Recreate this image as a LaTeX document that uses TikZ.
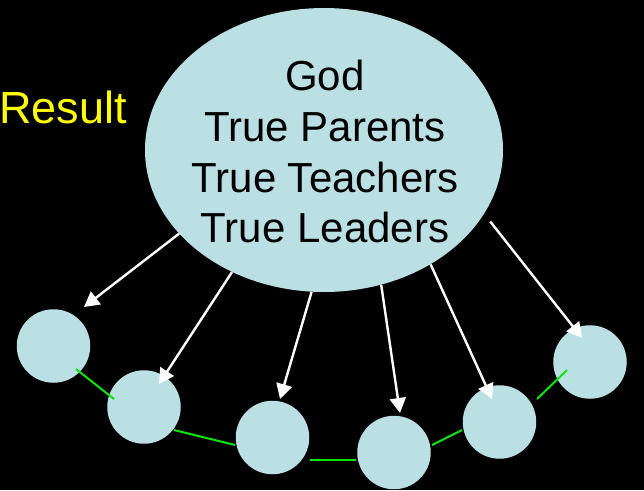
\documentclass[tikz,border=0pt]{standalone}
\usepackage{fontspec}
\setmainfont{Liberation Sans}
\usetikzlibrary{calc,arrows.meta,shapes.geometric}
\definecolor{bubble}{RGB}{186,224,228}
\definecolor{linkgreen}{RGB}{10,230,10}
\definecolor{resultyellow}{RGB}{255,255,0}
\tikzset{
  bigoval/.style={ellipse, fill=bubble, minimum width=358pt, minimum height=284pt, inner sep=0pt},
  member/.style={circle, fill=bubble, minimum size=73.5pt, inner sep=0pt},
  ovaltext/.style={font=\fontsize{42}{50}\selectfont, text=black, inner sep=0pt, anchor=base},
  link/.style={draw=linkgreen, line width=2pt},
  flow/.style={draw=white, line width=2.4pt, -{Triangle[length=15pt,width=16pt]}}
}
\begin{document}
\begin{tikzpicture}[x=1pt,y=-1pt]
\fill[black] (0,0) rectangle (644,490);
\useasboundingbox (0,0) rectangle (644,490);

\node[inner sep=0pt, anchor=base east, text=resultyellow, font=\fontsize{45}{50}\selectfont] (res) at (127,123) {Result};

\node[bigoval] (god) at (324,150) {};
\node[ovaltext] (t1) at (325,90) {God};
\node[ovaltext] (t2) at (325,141) {True Parents};
\node[ovaltext] (t3) at (325,192) {True Teachers};
\node[ovaltext] (t4) at (325,242) {True Leaders};

\node[member] (c1) at (53.5,346) {};
\node[member] (c2) at (144,407) {};
\node[member] (c3) at (272.5,437.5) {};
\node[member] (c4) at (394,452.5) {};
\node[member] (c5) at (499.5,422) {};
\node[member] (c6) at (590,362) {};

\draw[link] ($(c1)+(22.5,23)$) -- ($(c2)+(-30,-8)$);
\draw[link] ($(c2)+(30,23)$) -- ($(c3)+(-37.5,7.5)$);
\draw[link] ($(c3)+(37.5,22.5)$) -- ($(c4)+(-38,7.5)$);
\draw[link] ($(c4)+(38,-7.5)$) -- ($(c5)+(-37.5,8)$);
\draw[link] ($(c5)+(37.5,-23)$) -- ($(c6)+(-23,8)$);

\draw[flow] (god.210.3) -- ($(c1)+(30.5,-39)$);
\draw[flow] (god.233.1) -- ($(c2)+(15,-23)$);
\draw[flow] (god.265) -- ($(c3)+(7.5,-38.5)$);
\draw[flow] (god.293.4) -- ($(c4)+(6,-39.5)$);
\draw[flow] (god.313.2) -- ($(c5)+(-7.5,-23)$);
\draw[flow] ($(god.336)+(10,2)$) -- ($(c6)+(-8,-24)$);
\end{tikzpicture}
\end{document}
